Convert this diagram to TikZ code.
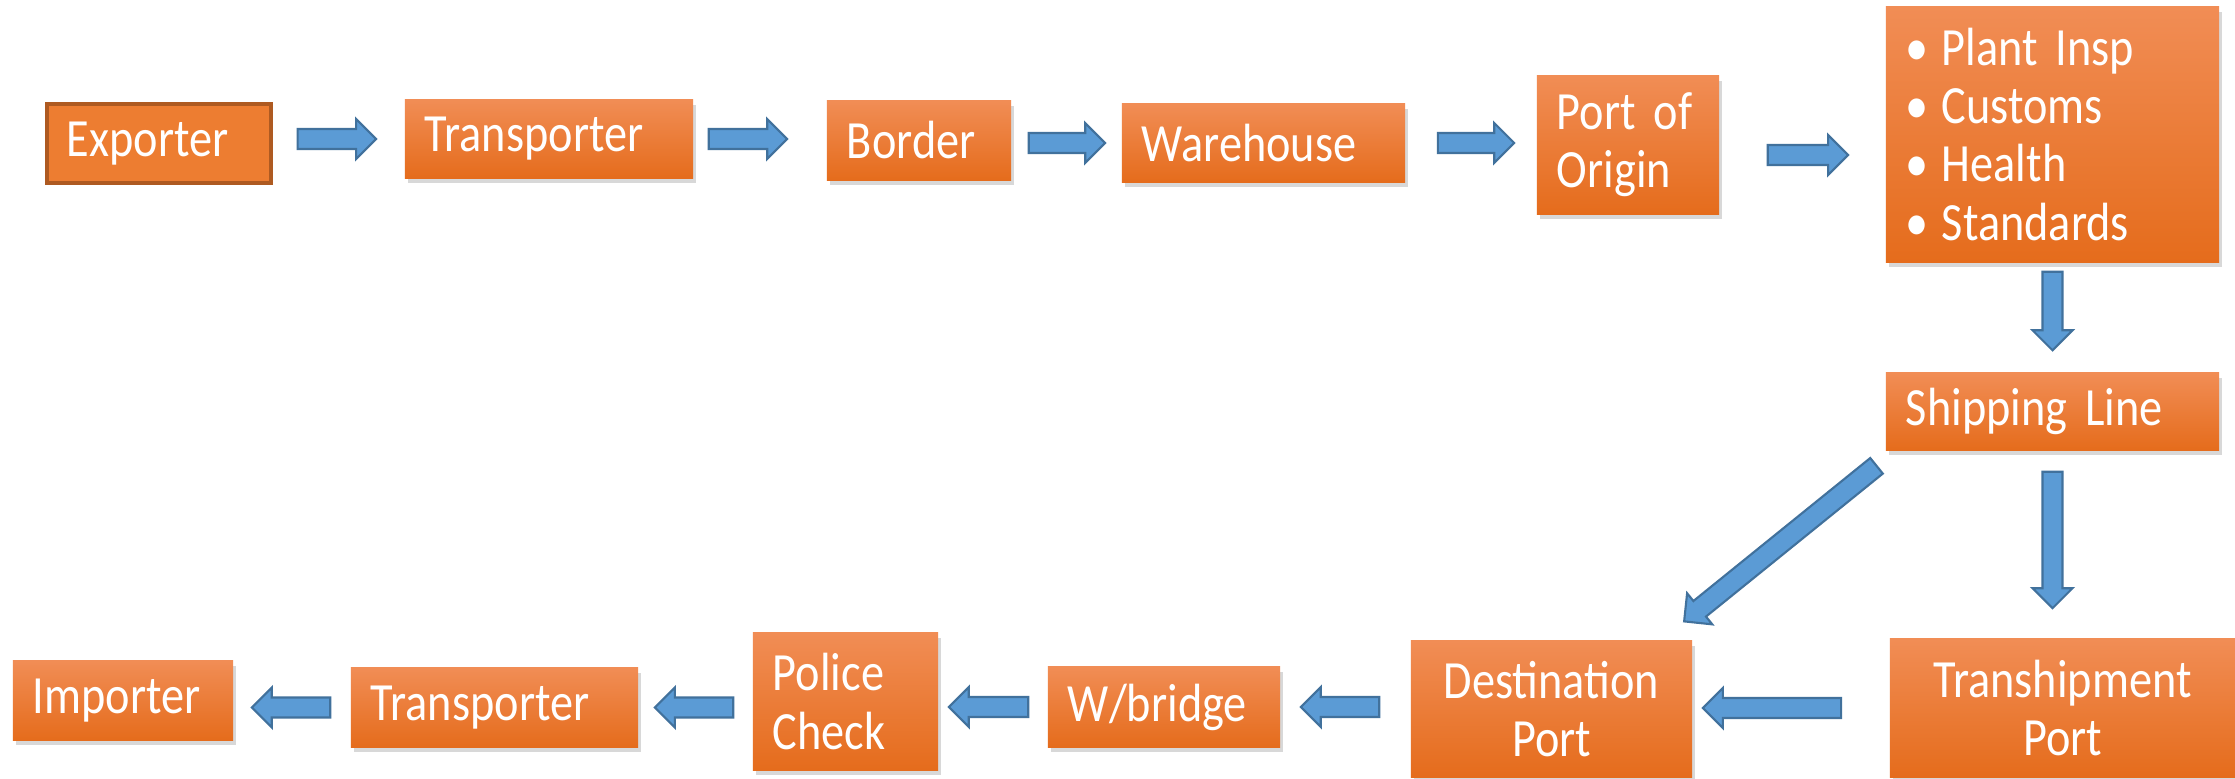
\documentclass[tikz,border=0pt]{standalone}
\usepackage{fontspec}
\setmainfont{Carlito}[FakeStretch=0.86]
\usetikzlibrary{calc, shadows}

\definecolor{boxtop}{RGB}{241,141,85}
\definecolor{boxmid}{RGB}{242,125,45}
\definecolor{boxbot}{RGB}{229,108,28}
\definecolor{expfill}{RGB}{237,125,49}
\definecolor{expline}{RGB}{174,90,33}
\definecolor{arrfill}{RGB}{91,155,213}
\definecolor{arrline}{RGB}{65,113,156}

\newcommand{\boxfont}{\fontsize{15.3}{16.5}\selectfont\spaceskip=0.16em}
\newcommand{\bul}[1]{\makebox[0.36cm][l]{\textbullet}#1}

\tikzset{
  box/.style    = {rectangle, inner xsep=0.2cm, inner ysep=0pt, align=left,
                   text=white, font=\boxfont,
                   top color=boxtop, middle color=boxmid, bottom color=boxbot,
                   drop shadow={shadow xshift=0.03cm, shadow yshift=-0.05cm,
                                opacity=0.3}},
  flatbox/.style = {rectangle, inner xsep=0.2cm, inner ysep=0pt, align=left,
                   text=white, font=\boxfont, fill=expfill, draw=expline,
                   line width=0.9pt},
  agap/.store in = \agap, agap=0.2cm,
  bgap/.store in = \bgap, bgap=0.2cm,
  % block arrow: shaft 0.2cm wide, head 0.4cm wide and 0.2cm long
  barrow/.style = {draw=arrline, fill=arrfill, line width=0.6pt, line join=miter,
    to path={
      ($(\tikztostart)!\agap!(\tikztotarget)$) coordinate (a0)
      ($(\tikztotarget)!\bgap!(\tikztostart)$) coordinate (a1)
      ($(a1)!0.2cm!(a0)$) coordinate (ah)
      ($(a0)!0.1cm!90:(a1)$) -- ($(ah)!0.1cm!90:(a1)$) -- ($(ah)!0.2cm!90:(a1)$)
      -- (a1) -- ($(ah)!0.2cm!-90:(a1)$) -- ($(ah)!0.1cm!-90:(a1)$)
      -- ($(a0)!0.1cm!-90:(a1)$) -- cycle}},
}

\begin{document}
\begin{tikzpicture}[x=0.01cm, y=-0.01cm]
  \fill[white] (0,0) rectangle (2235,779);
  \useasboundingbox (0,0) rectangle (2235,779);

  % outbound leg
  \node[flatbox, minimum width=2.24cm, minimum height=0.79cm, text width=1.84cm]
        (exp) at (159,143.5) {Exporter};
  \node[box, minimum width=2.88cm, minimum height=0.78cm, text width=2.48cm]
        (tr1) at (549,139) {Transporter};
  \node[box, minimum width=1.84cm, minimum height=0.79cm, text width=1.44cm]
        (brd) at (919,140.5) {Border};
  \node[box, minimum width=2.83cm, minimum height=0.78cm, text width=2.43cm]
        (wh) at (1263.5,143) {Warehouse};
  \node[box, minimum width=1.82cm, minimum height=1.38cm, text width=1.42cm]
        (poo) at (1628,145) {Port of\\Origin};
  \node[box, minimum width=3.33cm, minimum height=2.55cm, text width=2.93cm]
        (chk) at (2052.5,134.5)
        {\bul{Plant Insp}\\\bul{Customs}\\\bul{Health}\\\bul{Standards}};
  \node[box, minimum width=3.33cm, minimum height=0.77cm, text width=2.93cm]
        (shp) at (2052.5,411.5) {Shipping Line};

  % inbound leg
  \node[box, align=center, minimum width=3.45cm, minimum height=1.38cm,
        text width=3.05cm] (trn) at (2062.5,708) {Transhipment\\Port};
  \node[box, align=center, minimum width=2.81cm, minimum height=1.36cm,
        text width=2.41cm] (dst) at (1551.5,709) {Destination\\Port};
  \node[box, minimum width=2.32cm, minimum height=0.80cm, text width=1.92cm]
        (wb) at (1164,707) {W/bridge};
  \node[box, minimum width=1.85cm, minimum height=1.37cm, text width=1.45cm]
        (pol) at (845.5,701.5) {Police\\Check};
  \node[box, minimum width=2.87cm, minimum height=0.79cm, text width=2.47cm]
        (tr2) at (494.5,707.5) {Transporter};
  \node[box, minimum width=2.20cm, minimum height=0.79cm, text width=1.80cm]
        (imp) at (123,700.5) {Importer};

  \draw[barrow, agap=0.25cm, bgap=0.28cm] (exp.east |- tr1.west) to (tr1.west);
  \draw[barrow, agap=0.15cm, bgap=0.39cm] (tr1.east) to (tr1.east -| brd.west);
  \draw[barrow, agap=0.17cm, bgap=0.16cm] (brd.east |- wh.west) to (wh.west);
  \draw[barrow, agap=0.32cm, bgap=0.22cm] (wh.east) to (wh.east -| poo.west);
  \draw[barrow, agap=0.48cm, bgap=0.37cm]
        ($(poo.east)+(0,10)$) to ($(poo.east -| chk.west)+(0,10)$);
  \draw[barrow, agap=0.09cm, bgap=0.22cm] (chk.south) to (shp.north);
  \draw[barrow, agap=0.21cm, bgap=0.30cm] (shp.south) to (shp.south |- trn.north);
  \draw[barrow, agap=0.24cm, bgap=0.30cm]
        ($(shp.south west)+(10,0)$) to ($(dst.north east)+(-32,0)$);
  \draw[barrow, agap=0.48cm, bgap=0.10cm] (trn.west) to (trn.west -| dst.east);
  \draw[barrow, agap=0.31cm, bgap=0.20cm] (wb.east -| dst.west) to (wb.east);
  \draw[barrow, agap=0.19cm, bgap=0.10cm] (wb.west) to (wb.west -| pol.east);
  \draw[barrow, agap=0.19cm, bgap=0.16cm] (tr2.east -| pol.west) to (tr2.east);
  \draw[barrow, agap=0.20cm, bgap=0.18cm] (tr2.west) to (tr2.west -| imp.east);
\end{tikzpicture}
\end{document}
